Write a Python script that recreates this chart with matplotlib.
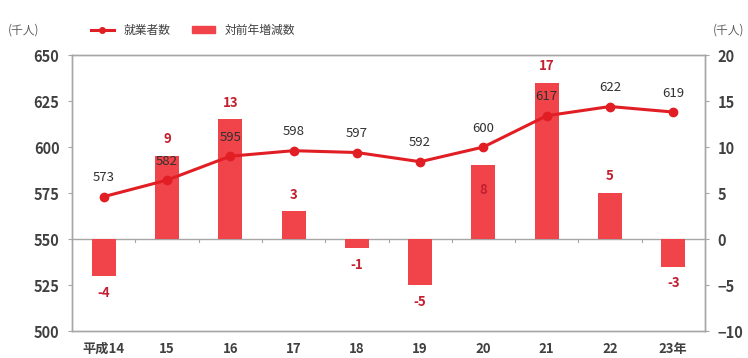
import matplotlib
matplotlib.use("Agg")
import matplotlib.pyplot as plt
import numpy as np
from matplotlib.lines import Line2D
from matplotlib.patches import Patch

plt.rcParams['font.family'] = ['Noto Sans CJK JP', 'DejaVu Sans']

# Data
years = ["平成14", "15", "16", "17", "18", "19", "20", "21", "22", "23年"]
employed = [573, 582, 595, 598, 597, 592, 600, 617, 622, 619]
change = [-4, 9, 13, 3, -1, -5, 8, 17, 5, -3]

line_color = "#e01e24"
bar_color = "#f0444a"
bar_text = "#c22030"
grey = "#a6a6a6"

fig = plt.figure(figsize=(7.48, 3.58), dpi=100)
ax = fig.add_axes([72/748, 1-331/358, 633/748, 276/358])
ax2 = ax.twinx()

x = np.arange(len(years))

# Bars on the right axis, line on the left axis drawn above them
ax2.bar(x, change, width=0.38, color=bar_color, zorder=2)
ax2.axhline(0, color=grey, lw=1, zorder=1)
ax.set_zorder(ax2.get_zorder() + 1)
ax.patch.set_visible(False)
ax.plot(x, employed, color=line_color, lw=2.2, marker='o', ms=6, zorder=3)

ax.set_xlim(-0.5, len(years) - 0.5)
ax.set_ylim(500, 650)
ax.set_yticks(np.arange(500, 651, 25))
ax2.set_ylim(-10, 20)
ax2.set_yticks(np.arange(-10, 21, 5))

ax.set_xticks(x)
ax.set_xticklabels(years)
for lbl in ax.get_xticklabels():
    lbl.set_fontweight('bold')
    lbl.set_color('#404040')
ax.tick_params(axis='x', length=0, labelsize=9.5, pad=8)
ax.tick_params(axis='y', length=3, color=grey, labelsize=10.5, labelcolor='#404040', pad=6)
ax2.tick_params(axis='y', length=3, color=grey, labelsize=10.5, labelcolor='#404040', pad=6)
for a in (ax, ax2):
    for lbl in a.get_yticklabels():
        lbl.set_fontweight('bold')
    for s in a.spines.values():
        s.set_color(grey)
        s.set_linewidth(1)

# Category separators on the zero line
for xs in x[:-1] + 0.5:
    ax2.plot([xs, xs], [0, -0.35], color=grey, lw=0.8, zorder=1)

# Value labels
for xi, v in zip(x, employed):
    ax.annotate(str(v), (xi, v), xytext=(0, 9), textcoords='offset points',
                ha='center', va='bottom', fontsize=9.5, color='#303030', zorder=5)
for xi, v in zip(x, change):
    if v >= 0:
        off, va = (-18, 'center') if v == 8 else (7, 'bottom')
    else:
        off, va = (-7, 'top')
    ax2.annotate(str(v), (xi, v), xytext=(0, off), textcoords='offset points',
                 ha='center', va=va, fontsize=9.5, color=bar_text,
                 fontweight='bold', zorder=5)

fig.text(8/748, 1-30/358, "(千人)", fontsize=8.5, color='#606060', va='center')
fig.text(744/748, 1-30/358, "(千人)", fontsize=8.5, color='#606060',
         va='center', ha='right')

# Legend
handles = [Line2D([], [], color=line_color, lw=2.2, marker='o', ms=4),
           Patch(color=bar_color)]
fig.legend(handles, ["就業者数", "対前年増減数"], loc='center',
           bbox_to_anchor=(193/748, 1-30/358), ncol=2, frameon=False,
           fontsize=8.5, handlelength=2.0, handleheight=0.5, columnspacing=1.8,
           labelcolor='#404040')

fig.savefig("out.png", dpi=100)
